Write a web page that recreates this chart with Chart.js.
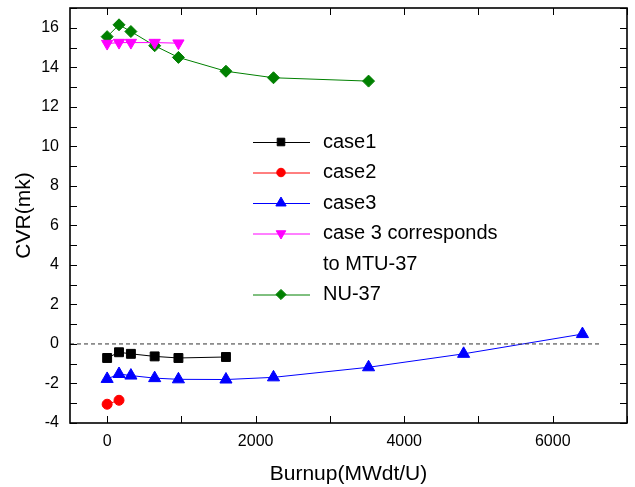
<!DOCTYPE html>
<html>
<head>
<meta charset="utf-8">
<script src="https://cdn.jsdelivr.net/npm/chart.js@4/dist/chart.umd.min.js"></script>
<style>
    html, body { margin: 0; padding: 0; background: #fff; }
    #wrap { position: relative; width: 635px; height: 487px; }
</style>
</head>
<body>
<div id="wrap"><canvas id="cvrChart"></canvas></div>
<script>
// --- Data ---
const case1Burnup = [0, 160, 320, 640, 960, 1600];
const case1Cvr = [-0.71, -0.42, -0.5, -0.63, -0.71, -0.66];

const case2Burnup = [0, 160];
const case2Cvr = [-3.05, -2.85];

const case3Burnup = [0, 160, 320, 640, 960, 1600, 2240, 3520, 4800, 6400];
const case3Cvr = [-1.77, -1.52, -1.6, -1.73, -1.79, -1.8, -1.69, -1.18, -0.5, 0.5];

const mtuBurnup = [0, 160, 320, 640, 960];
const mtuCvr = [15.2, 15.25, 15.25, 15.25, 15.22];

const nuBurnup = [0, 160, 320, 640, 960, 1600, 2240, 3520];
const nuCvr = [15.55, 16.15, 15.81, 15.09, 14.5, 13.8, 13.47, 13.3];

// dashed zero reference line
const zeroLineBurnup = [-500, 6650];
const zeroLineCvr = [0, 0];

// axis ticks
const xTickLabels = [0, 2000, 4000, 6000];
const xMinorTicks = [0, 1000, 2000, 3000, 4000, 5000, 6000, 7000];
const yTickLabels = [-4, -2, 0, 2, 4, 6, 8, 10, 12, 14, 16];
const yMinorTicks = [-4, -3, -2, -1, 0, 1, 2, 3, 4, 5, 6, 7, 8, 9, 10, 11, 12, 13, 14, 15, 16, 17];

const FONT = 'Arial, "Liberation Sans", sans-serif';

function toPoints(xs, ys) {
    return xs.map((x, i) => ({ x: x, y: ys[i] }));
}

function series(label, xs, ys, color, style, radius, rotation) {
    return {
        label: label,
        data: toPoints(xs, ys),
        borderColor: color,
        backgroundColor: color,
        borderWidth: 1,
        pointStyle: style,
        pointRadius: radius,
        pointRotation: rotation || 0,
        pointBackgroundColor: color,
        pointBorderColor: color,
        pointBorderWidth: 1,
        tension: 0
    };
}

const datasets = [
    {
        label: 'zero',
        data: toPoints(zeroLineBurnup, zeroLineCvr),
        borderColor: '#333',
        borderWidth: 1,
        borderDash: [4, 3],
        pointRadius: 0,
        inLegend: false
    },
    series('case1', case1Burnup, case1Cvr, '#000000', 'rect', 6.3),
    series('case2', case2Burnup, case2Cvr, '#ff0000', 'circle', 5),
    series('case3', case3Burnup, case3Cvr, '#0000ff', 'triangle', 7),
    series('case 3 corresponds\nto MTU-37', mtuBurnup, mtuCvr, '#ff00ff', 'triangle', 6.5, 180),
    series('NU-37', nuBurnup, nuCvr, '#008000', 'rectRot', 6)
];

// --- Frame with inward ticks on all four sides ---
const framePlugin = {
    id: 'frame',
    afterDatasetsDraw(chart) {
        const ctx = chart.ctx;
        const a = chart.chartArea;
        const xs = chart.scales.x;
        const ys = chart.scales.y;
        const tick = 7;
        ctx.save();
        ctx.strokeStyle = '#000';
        ctx.lineWidth = 1;
        ctx.beginPath();
        xMinorTicks.forEach(v => {
            const px = Math.round(xs.getPixelForValue(v)) + 0.5;
            ctx.moveTo(px, a.bottom); ctx.lineTo(px, a.bottom - tick);
            ctx.moveTo(px, a.top); ctx.lineTo(px, a.top + tick);
        });
        yMinorTicks.forEach(v => {
            const py = Math.round(ys.getPixelForValue(v)) + 0.5;
            ctx.moveTo(a.left, py); ctx.lineTo(a.left + tick, py);
            ctx.moveTo(a.right, py); ctx.lineTo(a.right - tick, py);
        });
        ctx.stroke();
        ctx.lineWidth = 1.6;
        ctx.strokeRect(a.left, a.top, a.right - a.left, a.bottom - a.top);
        ctx.restore();
    }
};

// --- Legend drawn inside the plot ---
const legendPlugin = {
    id: 'insideLegend',
    afterDraw(chart) {
        const ctx = chart.ctx;
        const lineX0 = 253, lineX1 = 310, markX = 281, textX = 323;
        const lineH = 30.5;
        let y = 142;
        ctx.save();
        ctx.font = '20px ' + FONT;
        ctx.fillStyle = '#000';
        ctx.textBaseline = 'middle';
        chart.data.datasets.forEach(ds => {
            if (ds.inLegend === false) return;
            ctx.strokeStyle = ds.borderColor;
            ctx.lineWidth = 1;
            ctx.beginPath();
            ctx.moveTo(lineX0, y + 0.5);
            ctx.lineTo(lineX1, y + 0.5);
            ctx.stroke();
            ctx.fillStyle = ds.pointBackgroundColor;
            ctx.strokeStyle = ds.pointBorderColor;
            Chart.helpers.drawPoint(ctx, {
                pointStyle: ds.pointStyle,
                radius: ds.pointRadius * 0.85,
                rotation: ds.pointRotation,
                borderWidth: 1
            }, markX, y);
            ctx.fillStyle = '#000';
            ds.label.split('\n').forEach(part => {
                ctx.fillText(part, textX, y);
                y += lineH;
            });
        });
        ctx.restore();
    }
};

new Chart(document.getElementById('cvrChart'), {
    type: 'line',
    data: { datasets: datasets },
    options: {
        responsive: true,
        maintainAspectRatio: false,
        animation: false,
        layout: { padding: { top: 7, right: 5, left: 0, bottom: 0 } },
        plugins: {
            legend: { display: false },
            tooltip: { enabled: false }
        },
        scales: {
            x: {
                type: 'linear',
                min: -500,
                max: 7000,
                afterBuildTicks: s => { s.ticks = xTickLabels.map(v => ({ value: v })); },
                afterFit: s => { s.height = 64; s.paddingLeft = 0; s.paddingRight = 0; },
                grid: { display: false, drawTicks: false },
                border: { display: false },
                ticks: {
                    color: '#000',
                    font: { family: FONT, size: 16 },
                    padding: 9,
                    maxRotation: 0,
                    callback: v => String(v)
                },
                title: {
                    display: true,
                    text: 'Burnup(MWdt/U)',
                    color: '#000',
                    font: { family: FONT, size: 21 },
                    padding: { top: 0, bottom: 0 }
                }
            },
            y: {
                type: 'linear',
                min: -4,
                max: 17,
                afterBuildTicks: s => { s.ticks = yTickLabels.map(v => ({ value: v })); },
                afterFit: s => { s.width = 70; s.paddingTop = 0; s.paddingBottom = 0; },
                grid: { display: false, drawTicks: false },
                border: { display: false },
                ticks: {
                    color: '#000',
                    font: { family: FONT, size: 16 },
                    padding: 11,
                    callback: v => String(v)
                },
                title: {
                    display: true,
                    text: 'CVR(mk)',
                    color: '#000',
                    font: { family: FONT, size: 21 },
                    padding: { top: 12, bottom: 0 }
                }
            }
        }
    },
    plugins: [framePlugin, legendPlugin]
});
</script>
</body>
</html>
